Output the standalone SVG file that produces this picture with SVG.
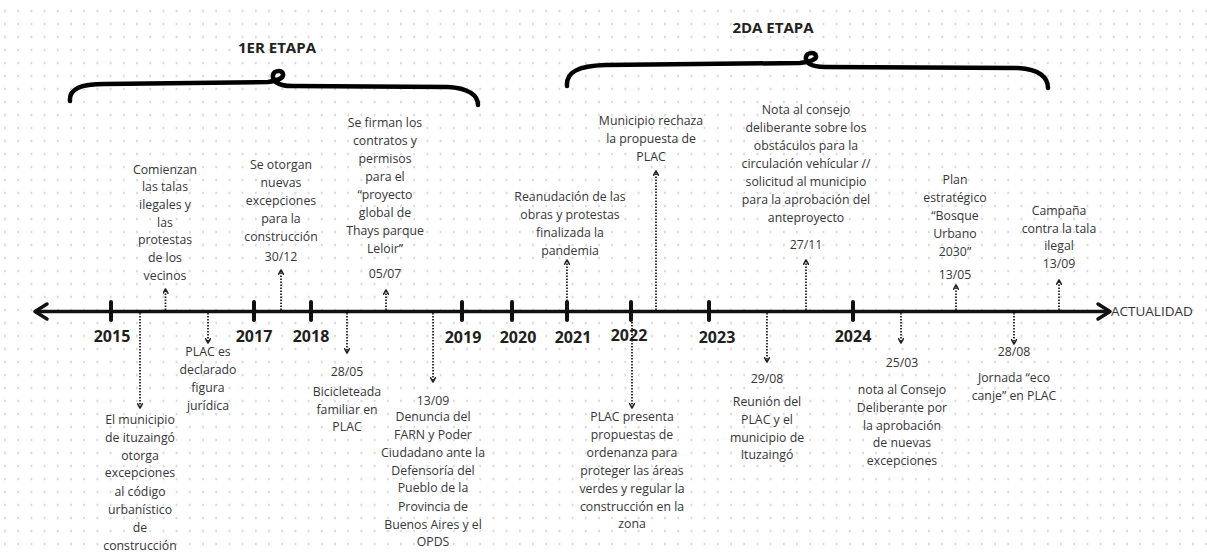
<svg xmlns="http://www.w3.org/2000/svg" width="1207" height="555" viewBox="0 0 1207 555">
<defs>
<pattern id="dots" x="-1.6" y="4.5" width="13.2" height="13" patternUnits="userSpaceOnUse"><circle cx="6.6" cy="6.5" r="1" fill="#c6c6c6"/></pattern>
<marker id="ah" viewBox="0 0 10 10" refX="9" refY="5" markerWidth="6" markerHeight="6" markerUnits="userSpaceOnUse" orient="auto"><path d="M2,1 L9,5 L2,9" fill="none" stroke="#222" stroke-width="2.6" stroke-linecap="round" stroke-linejoin="round"/></marker>
<style>
.t{font-family:"Open Sans","Liberation Sans",sans-serif;font-size:12.3px;fill:#363636;text-anchor:middle}
.yr{font-family:"Open Sans","Liberation Sans",sans-serif;font-size:16px;font-weight:700;fill:#1e1e1e;text-anchor:middle}
.et{font-family:"Open Sans","Liberation Sans",sans-serif;font-size:15px;font-weight:700;fill:#222;text-anchor:middle}
.br{fill:none;stroke:#000;stroke-width:4.5;stroke-linecap:round;stroke-linejoin:round}
.ax{fill:none;stroke:#111;stroke-width:3.5;stroke-linecap:round;stroke-linejoin:round}
.tk{stroke:#111;stroke-width:4;stroke-linecap:round}
.c{fill:none;stroke:#222;stroke-width:1.8;stroke-dasharray:1.5 1.5;marker-end:url(#ah)}
</style>
</defs>
<rect width="1207" height="555" fill="#fff"/>
<rect width="1207" height="555" fill="url(#dots)"/>

<g id="etapa1">
<text class="et" x="277" y="53">1ER ETAPA</text>
<path class="br" d="M70,101 C69,89 80,84 105,84 L268,82 C277,81 284,78 283,74 C282,70 274,70 273,75 C272,81 278,86 292,86 L448,87 C468,88 478,95 478,105"/>
</g>
<g id="etapa2">
<text class="et" x="773" y="33">2DA ETAPA</text>
<path class="br" d="M567,86 C566,72 578,66 605,65 L800,63 C808,62 817,60 816,56 C815,52 807,52 806,57 C805,62 810,67 825,67 L1018,68 C1040,69 1048,78 1048,88"/>
</g>

<g id="axis">
<path class="ax" d="M36,311.5 L1109,311.5"/>
<path class="ax" d="M47,304 L35,311.5 L47,319"/>
<path class="ax" d="M1098,304 L1110,311.5 L1098,319"/>
<text x="1111" y="316" style="font-family:'Open Sans','Liberation Sans',sans-serif;font-size:13.5px;fill:#333">ACTUALIDAD</text>
<line class="tk" x1="111" y1="302" x2="111" y2="320"/>
<line class="tk" x1="254" y1="302" x2="254" y2="320"/>
<line class="tk" x1="311" y1="302" x2="311" y2="320"/>
<line class="tk" x1="462" y1="302" x2="462" y2="320"/>
<line class="tk" x1="512" y1="302" x2="512" y2="320"/>
<line class="tk" x1="567" y1="302" x2="567" y2="320"/>
<line class="tk" x1="631" y1="302" x2="631" y2="320"/>
<line class="tk" x1="709" y1="302" x2="709" y2="320"/>
<line class="tk" x1="853" y1="302" x2="853" y2="320"/>
<text class="yr" x="112" y="342">2015</text>
<text class="yr" x="254" y="342">2017</text>
<text class="yr" x="311" y="342">2018</text>
<text class="yr" x="463" y="343">2019</text>
<text class="yr" x="518" y="343">2020</text>
<text class="yr" x="573" y="343">2021</text>
<text class="yr" x="629" y="341">2022</text>
<text class="yr" x="717" y="343">2023</text>
<text class="yr" x="853" y="342">2024</text>
</g>

<g id="connectors">
<path class="c" d="M165.5,310 L165.5,289"/>
<path class="c" d="M281,310 L281,270"/>
<path class="c" d="M386,310 L386,290"/>
<path class="c" d="M567,310 L567,260"/>
<path class="c" d="M656,310 L656,171"/>
<path class="c" d="M806,310 L806,260"/>
<path class="c" d="M956,310 L956,285"/>
<path class="c" d="M1059,310 L1059,280"/>
<path class="c" d="M140,313 L140,408"/>
<path class="c" d="M208,313 L208,343"/>
<path class="c" d="M347,313 L347,353"/>
<path class="c" d="M433,313 L433,382"/>
<path class="c" d="M632,313 L632,408"/>
<path class="c" d="M767,313 L767,362"/>
<path class="c" d="M901,313 L901,343"/>
<path class="c" d="M1014,313 L1014,344"/>
</g>

<g id="ev-talas"><text class="t"><tspan x="165" y="173.5">Comienzan</tspan><tspan x="165" y="191">las talas</tspan><tspan x="165" y="209">ilegales y</tspan><tspan x="165" y="226.5">las</tspan><tspan x="165" y="244">protestas</tspan><tspan x="165" y="262">de los</tspan><tspan x="165" y="279.5">vecinos</tspan></text></g>
<g id="ev-excepciones"><text class="t"><tspan x="281" y="169">Se otorgan</tspan><tspan x="281" y="187">nuevas</tspan><tspan x="281" y="205">excepciones</tspan><tspan x="281" y="223">para la</tspan><tspan x="281" y="241">construcción</tspan><tspan x="281" y="261">30/12</tspan></text></g>
<g id="ev-contratos"><text class="t"><tspan x="385" y="127">Se firman los</tspan><tspan x="385" y="145">contratos y</tspan><tspan x="385" y="163">permisos</tspan><tspan x="385" y="181">para el</tspan><tspan x="385" y="199">“proyecto</tspan><tspan x="385" y="217">global de</tspan><tspan x="385" y="235">Thays parque</tspan><tspan x="385" y="253">Leloir”</tspan><tspan x="385" y="278">05/07</tspan></text></g>
<g id="ev-reanudacion"><text class="t"><tspan x="570" y="201">Reanudación de las</tspan><tspan x="570" y="219">obras y protestas</tspan><tspan x="570" y="237">finalizada la</tspan><tspan x="570" y="255">pandemia</tspan></text></g>
<g id="ev-rechaza"><text class="t"><tspan x="651" y="125">Municipio rechaza</tspan><tspan x="651" y="143">la propuesta de</tspan><tspan x="651" y="161">PLAC</tspan></text></g>
<g id="ev-nota"><text class="t"><tspan x="806" y="114">Nota al consejo</tspan><tspan x="806" y="132">deliberante sobre los</tspan><tspan x="806" y="150">obstáculos para la</tspan><tspan x="806" y="168">circulación vehícular //</tspan><tspan x="806" y="186">solicitud al municipio</tspan><tspan x="806" y="204">para la aprobación del</tspan><tspan x="806" y="222">anteproyecto</tspan><tspan x="806" y="249">27/11</tspan></text></g>
<g id="ev-plan"><text class="t"><tspan x="955" y="184">Plan</tspan><tspan x="955" y="202">estratégico</tspan><tspan x="955" y="220">“Bosque</tspan><tspan x="955" y="238">Urbano</tspan><tspan x="955" y="256">2030”</tspan><tspan x="955" y="279">13/05</tspan></text></g>
<g id="ev-campana"><text class="t"><tspan x="1059" y="215">Campaña</tspan><tspan x="1059" y="233">contra la tala</tspan><tspan x="1059" y="250">ilegal</tspan><tspan x="1059" y="268">13/09</tspan></text></g>

<g id="ev-municipio"><text class="t"><tspan x="140" y="424">El municipio</tspan><tspan x="140" y="442">de ituzaingó</tspan><tspan x="140" y="460">otorga</tspan><tspan x="140" y="477">excepciones</tspan><tspan x="140" y="496">al código</tspan><tspan x="140" y="514">urbanístico</tspan><tspan x="140" y="532">de</tspan><tspan x="140" y="550">construcción</tspan></text></g>
<g id="ev-juridica"><text class="t"><tspan x="208" y="356">PLAC es</tspan><tspan x="208" y="374">declarado</tspan><tspan x="208" y="392">figura</tspan><tspan x="208" y="410">jurídica</tspan></text></g>
<g id="ev-bicicleteada"><text class="t"><tspan x="347" y="376">28/05</tspan><tspan x="347" y="396">Bicicleteada</tspan><tspan x="347" y="414">familiar en</tspan><tspan x="347" y="431">PLAC</tspan></text></g>
<g id="ev-denuncia"><text class="t"><tspan x="433" y="405">13/09</tspan><tspan x="433" y="421">Denuncia del</tspan><tspan x="433" y="439">FARN y Poder</tspan><tspan x="433" y="457">Ciudadano ante la</tspan><tspan x="433" y="475">Defensoría del</tspan><tspan x="433" y="492">Pueblo de la</tspan><tspan x="433" y="511">Provincia de</tspan><tspan x="433" y="529">Buenos Aires y el</tspan><tspan x="433" y="546">OPDS</tspan></text></g>
<g id="ev-ordenanza"><text class="t"><tspan x="632" y="421">PLAC presenta</tspan><tspan x="632" y="439">propuestas de</tspan><tspan x="632" y="457">ordenanza para</tspan><tspan x="632" y="475">proteger las áreas</tspan><tspan x="632" y="493">verdes y regular la</tspan><tspan x="632" y="511">construcción en la</tspan><tspan x="632" y="528">zona</tspan></text></g>
<g id="ev-reunion"><text class="t"><tspan x="767" y="383">29/08</tspan><tspan x="767" y="406">Reunión del</tspan><tspan x="767" y="424">PLAC y el</tspan><tspan x="767" y="442">municipio de</tspan><tspan x="767" y="459">Ituzaingó</tspan></text></g>
<g id="ev-nota-consejo"><text class="t"><tspan x="902" y="367">25/03</tspan><tspan x="902" y="394">nota al Consejo</tspan><tspan x="902" y="412">Deliberante por</tspan><tspan x="902" y="430">la aprobación</tspan><tspan x="902" y="447">de nuevas</tspan><tspan x="902" y="465">excepciones</tspan></text></g>
<g id="ev-ecocanje"><text class="t"><tspan x="1014" y="356">28/08</tspan><tspan x="1014" y="382">Jornada “eco</tspan><tspan x="1014" y="400">canje” en PLAC</tspan></text></g>
</svg>
